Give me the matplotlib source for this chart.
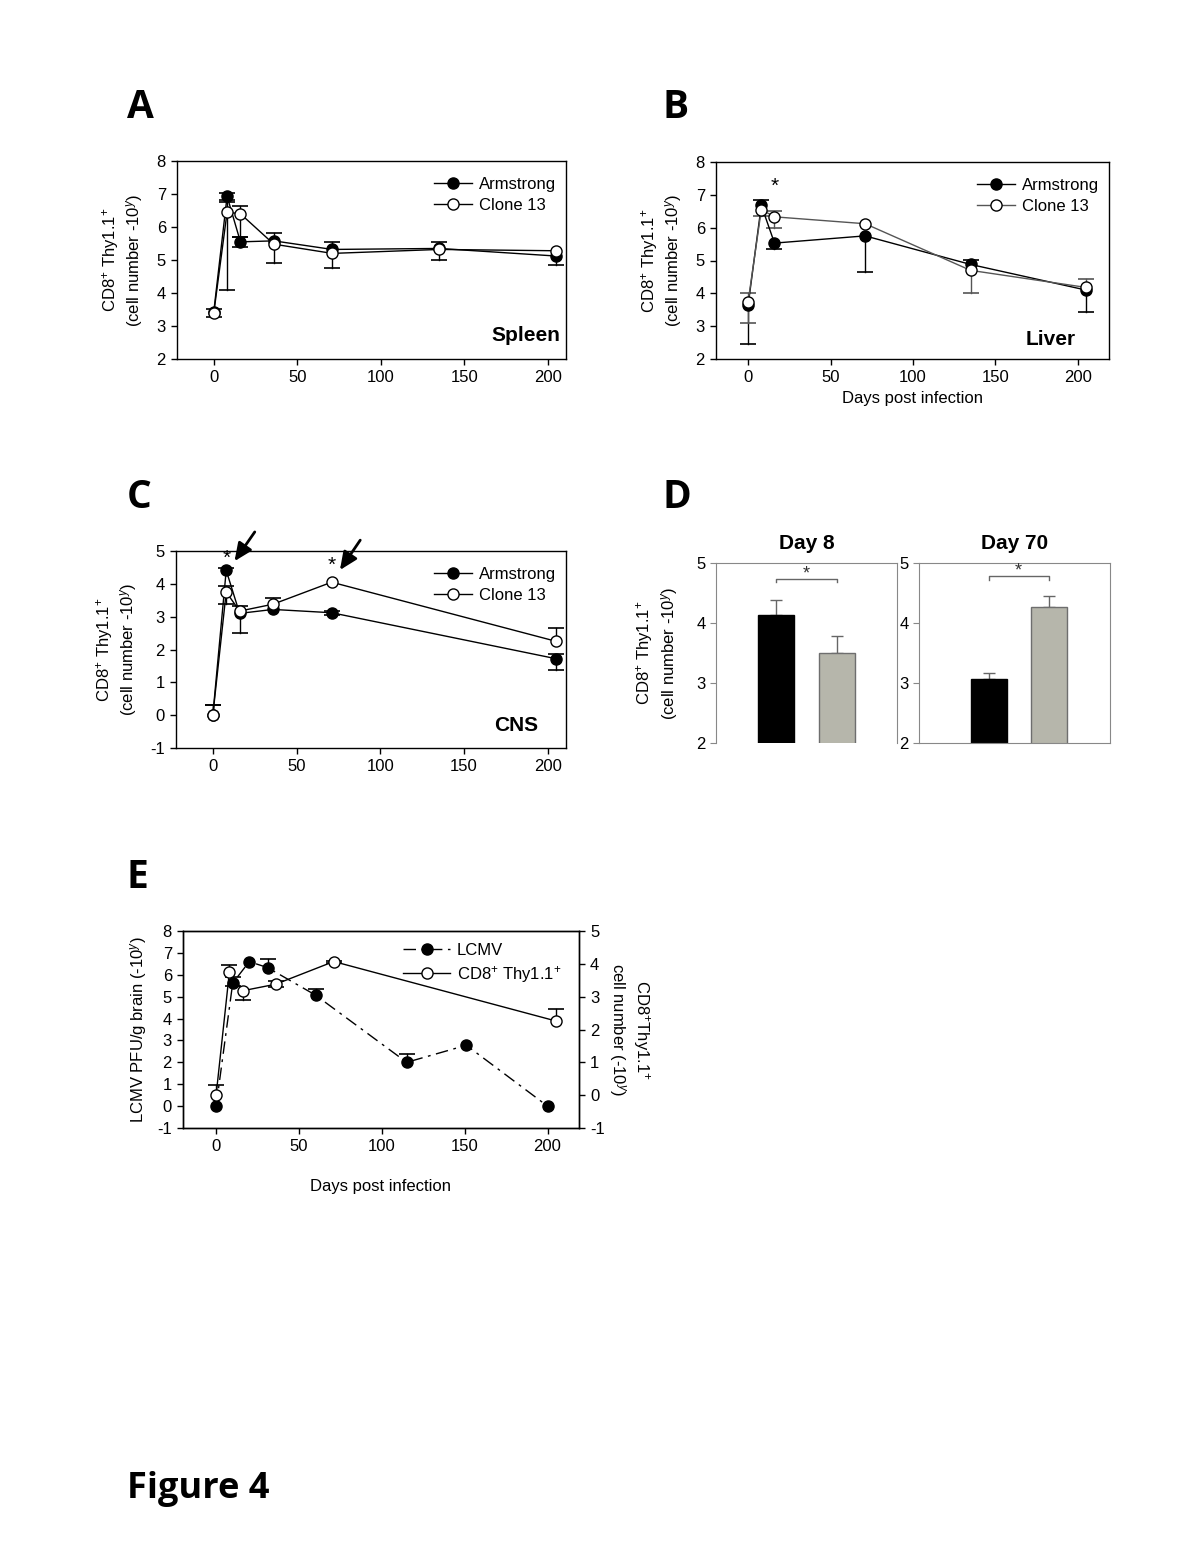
import numpy as np
import matplotlib
matplotlib.use("Agg")
import matplotlib.pyplot as plt

plt.rcParams['font.family'] = ['Liberation Sans', 'DejaVu Sans']
plt.rcParams['font.size'] = 12
plt.rcParams['axes.unicode_minus'] = False
plt.rcParams['mathtext.fontset'] = 'custom'
plt.rcParams['mathtext.rm'] = 'Liberation Sans'
plt.rcParams['mathtext.it'] = 'Liberation Sans:italic'

W, H = 1200, 1553

# ---- data ----
days = [0, 8, 16, 36, 71, 135, 205]

# A: spleen
spleen_arm = [3.42, 6.93, 5.55, 5.58, 5.32, 5.35, 5.12]
spleen_arm_lo = [0, 0.1, 0.17, 0, 0, 0, 0.27]
spleen_arm_hi = [0.1, 0.1, 0.15, 0.25, 0.23, 0.2, 0]
spleen_c13 = [3.38, 6.45, 6.4, 5.48, 5.2, 5.32, 5.28]
spleen_c13_lo = [0.1, 2.35, 0.7, 0.58, 0.45, 0.32, 0]
spleen_c13_hi = [0, 0.3, 0.25, 0, 0, 0, 0]

# B: liver
liver_days = [0, 8, 16, 71, 135, 205]
liver_arm = [3.64, 6.68, 5.53, 5.75, 4.88, 4.1]
liver_arm_lo = [1.17, 0, 0.19, 1.09, 0, 0.68]
liver_arm_hi = [0, 0.16, 0, 0, 0.13, 0]
liver_c13 = [3.75, 6.55, 6.33, 6.12, 4.7, 4.18]
liver_c13_lo = [0.66, 0.2, 0.33, 0, 0.68, 0]
liver_c13_hi = [0.27, 0, 0.18, 0, 0, 0.27]

# C: CNS
cns_days = [0, 8, 16, 36, 71, 205]
cns_arm = [0, 4.41, 3.1, 3.22, 3.12, 1.72]
cns_arm_lo = [0, 0, 0, 0, 0.07, 0.34]
cns_arm_hi = [0.3, 0.06, 0.22, 0, 0.06, 0.15]
cns_c13 = [0, 3.75, 3.17, 3.38, 4.05, 2.25]
cns_c13_lo = [0, 0.35, 0.66, 0, 0, 0]
cns_c13_hi = [0.3, 0.18, 0, 0.18, 0, 0.4]

# D: bars (Armstrong, Clone 13)
d8_vals = [4.13, 3.5]
d8_err = [0.26, 0.28]
d70_vals = [3.07, 4.27]
d70_err = [0.09, 0.18]

# E: virus titre (left axis) and CD8 in CNS (right axis)
lcmv_days = [0, 10, 20, 31, 60, 115, 151, 200]
lcmv = [0, 5.62, 6.6, 6.33, 5.07, 2.0, 2.78, 0]
lcmv_lo = [0, 0.12, 0, 0, 0, 0, 0, 0]
lcmv_hi = [0, 0.3, 0, 0.38, 0.3, 0.38, 0, 0]
cd8_days = [0, 8, 16, 36, 71, 205]
cd8 = [0.01, 3.75, 3.18, 3.38, 4.07, 2.26]
cd8_lo = [0, 0, 0.27, 0.1, 0.03, 0]
cd8_hi = [0.3, 0.21, 0, 0.1, 0.03, 0.37]

YLAB = 'CD8$^{+}$ Thy1.1$^{+}$\n(cell number -10$^{y}$)'


def px_axes(fig, l, t, r, b):
    return fig.add_axes([l / W, 1 - b / H, (r - l) / W, (b - t) / H])


def err(ax, x, y, lo, hi, color='black', cap=12, zorder=1):
    # one-sided error bars as drawn in the original
    for xi, yi, l, h in zip(x, y, lo, hi):
        for d in (-l, h):
            if d == 0:
                continue
            ax.plot([xi, xi], [yi, yi + d], color=color, lw=1, zorder=zorder)
            ax.plot(xi, yi + d, marker='_', ms=cap, mew=1.2, color=color, zorder=zorder)


def style(ax):
    ax.tick_params(direction='out', length=4, width=1, labelsize=12, pad=4)
    for s in ax.spines.values():
        s.set_linewidth(1)


def line_panel(ax, x1, arm, alo, ahi, x2, c13, clo, chi, c13col='black'):
    err(ax, x1, arm, alo, ahi)
    err(ax, x2, c13, clo, chi, color=c13col)
    ax.plot(x1, arm, '-o', color='black', mfc='black', ms=8, lw=1, label='Armstrong', zorder=3)
    ax.plot(x2, c13, '-o', color=c13col, mfc='white', mec='black', ms=8, lw=1,
            label='Clone 13', zorder=4)
    ax.legend(loc='upper right', frameon=False, fontsize=12, handlelength=2.3,
              handletextpad=0.4, labelspacing=0.35, borderaxespad=0.2,
              bbox_to_anchor=(1.0, 0.97))
    ax.set_ylabel(YLAB, fontsize=12, labelpad=8)
    style(ax)


def letter(fig, x, y, s, size=28):
    fig.text(x / W, 1 - y / H, s, fontsize=size, weight='bold', family='Open Sans',
             ha='left', va='center')


fig = plt.figure(figsize=(W / 100, H / 100), dpi=100)

# ---- A ----
axA = px_axes(fig, 177, 161, 566, 359)
line_panel(axA, days, spleen_arm, spleen_arm_lo, spleen_arm_hi,
           days, spleen_c13, spleen_c13_lo, spleen_c13_hi)
axA.set_xlim(-22, 211)
axA.set_ylim(2, 8)
axA.set_yticks(range(2, 9))
axA.set_xticks([0, 50, 100, 150, 200])
axA.text(0.985, 0.12, 'Spleen', transform=axA.transAxes, ha='right', va='center',
         fontsize=15, weight='bold')
letter(fig, 127, 107, 'A')

# ---- B ----
axB = px_axes(fig, 716, 162, 1109, 359)
line_panel(axB, liver_days, liver_arm, liver_arm_lo, liver_arm_hi,
           liver_days, liver_c13, liver_c13_lo, liver_c13_hi, c13col='#555555')
axB.set_xlim(-19.5, 219)
axB.set_ylim(2, 8)
axB.set_yticks(range(2, 9))
axB.set_xticks([0, 50, 100, 150, 200])
axB.set_xlabel('Days post infection', fontsize=12, labelpad=4)
axB.text(16, 7.25, '*', ha='center', va='center', fontsize=15)
axB.text(0.915, 0.1, 'Liver', transform=axB.transAxes, ha='right', va='center',
         fontsize=15, weight='bold')
letter(fig, 662, 107, 'B')

# ---- C ----
axC = px_axes(fig, 176, 551, 566, 748)
line_panel(axC, cns_days, cns_arm, cns_arm_lo, cns_arm_hi,
           cns_days, cns_c13, cns_c13_lo, cns_c13_hi)
axC.set_xlim(-22, 211)
axC.set_ylim(-1, 5)
axC.set_yticks(range(-1, 6))
axC.set_xticks([0, 50, 100, 150, 200])
axC.text(8, 4.78, '*', ha='center', va='center', fontsize=15)
axC.text(71, 4.55, '*', ha='center', va='center', fontsize=15)
arrow = dict(arrowstyle='-|>,head_length=0.9,head_width=0.4', color='black', lw=2)
axC.annotate('', xy=(12, 4.62), xytext=(26, 5.65), annotation_clip=False, arrowprops=arrow)
axC.annotate('', xy=(75, 4.35), xytext=(89, 5.4), annotation_clip=False, arrowprops=arrow)
axC.text(0.93, 0.115, 'CNS', transform=axC.transAxes, ha='right', va='center',
         fontsize=15, weight='bold')
letter(fig, 127, 497, 'C')

# ---- D ----
bar_cols = ['black', '#b6b6ab']
bar_edges = ['black', '#6e6e6e']
axD1 = px_axes(fig, 716, 563, 897, 743)
axD2 = px_axes(fig, 919, 563, 1110, 743)
for ax, vals, e, title, xl, yb in [(axD1, d8_vals, d8_err, 'Day 8', (0, 3), 4.74),
                                    (axD2, d70_vals, d70_err, 'Day 70', (-0.16, 3.02), 4.78)]:
    ax.bar([1, 2], vals, width=0.6, color=bar_cols, edgecolor=bar_edges, lw=1, zorder=2)
    ax.errorbar([1, 2], vals, yerr=[[0, 0], e], fmt='none', ecolor='#666666',
                elinewidth=1, capsize=4, capthick=1, zorder=1)
    ax.plot([1, 1, 2, 2], [yb - 0.06, yb, yb, yb - 0.06], color='#666666', lw=1)
    ax.text(1.5, yb + 0.08, '*', ha='center', va='center', fontsize=13, color='#333333')
    ax.set_xlim(*xl)
    ax.set_ylim(2, 5)
    ax.set_yticks([2, 3, 4, 5])
    ax.set_xticks([])
    ax.set_title(title, fontsize=15, weight='bold', pad=10)
    for s in ax.spines.values():
        s.set_color('#888888')
    ax.tick_params(axis='y', direction='out', length=4, color='#888888', labelsize=12)
axD1.spines['bottom'].set_visible(False)
axD1.set_ylabel(YLAB, fontsize=12, labelpad=12)
letter(fig, 662, 497, 'D')

# ---- E ----
axE = px_axes(fig, 183, 931, 579, 1128)
axE2 = axE.twinx()
err(axE, lcmv_days, lcmv, lcmv_lo, lcmv_hi)
err(axE2, cd8_days, cd8, cd8_lo, cd8_hi)
lE1, = axE.plot(lcmv_days, lcmv, '-.o', color='black', mfc='black', ms=8, lw=1,
                dashes=[9, 4, 2, 4], label='LCMV', zorder=3)
lE2, = axE2.plot(cd8_days, cd8, '-o', color='black', mfc='white', ms=8, lw=1,
                 label='CD8$^{+}$ Thy1.1$^{+}$', zorder=4)
axE.set_xlim(-20, 219)
axE.set_ylim(-1, 8)
axE.set_yticks(range(-1, 9))
axE2.set_ylim(-1, 5)
axE2.set_yticks(range(-1, 6))
axE.set_xticks([0, 50, 100, 150, 200])
axE.set_ylabel('LCMV PFU/g brain (-10$^{y}$)', fontsize=12, labelpad=6)
axE2.set_ylabel('CD8$^{+}$Thy1.1$^{+}$\ncell number (-10$^{y}$)', fontsize=12,
                rotation=270, labelpad=34)
axE.set_xlabel('Days post infection', fontsize=12, labelpad=18)
style(axE)
style(axE2)
axE2.legend([lE1, lE2], ['LCMV', 'CD8$^{+}$ Thy1.1$^{+}$'], loc='upper right',
            frameon=False, fontsize=12, handlelength=2.8, handletextpad=0.4,
            labelspacing=0.35, bbox_to_anchor=(0.98, 0.99), borderaxespad=0.2)
letter(fig, 127, 877, 'E')

fig.text(127 / W, 1 - 1489 / H, 'Figure 4', fontsize=26, weight='bold', family='Open Sans',
         ha='left', va='center')

fig.savefig('out.png', dpi=100)
